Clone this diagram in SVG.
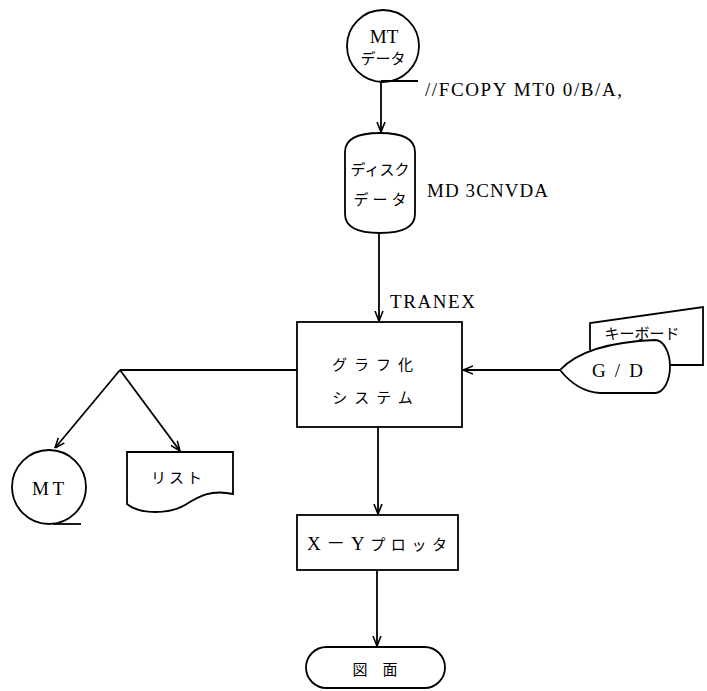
<svg xmlns="http://www.w3.org/2000/svg" width="707" height="691" viewBox="0 0 707 691">
<defs>
<style>
.s{fill:#fff;stroke:#000;stroke-width:1.8}
.l{fill:none;stroke:#000;stroke-width:1.8}
.t{font-family:"Liberation Serif","Noto Sans CJK JP",serif;font-size:19px;fill:#000}
.j{font-family:"Noto Sans CJK JP","Liberation Sans",sans-serif;font-size:15px;fill:#000}
</style>
<marker id="a" viewBox="0 0 10 10" refX="10" refY="5" markerWidth="10" markerHeight="10" markerUnits="userSpaceOnUse" orient="auto">
<path d="M0,1 L10,5 L0,9" fill="none" stroke="#000" stroke-width="1.6"/>
</marker>
</defs>
<rect width="707" height="691" fill="#fff"/>
<g id="connectors">
<line class="l" x1="381" y1="81" x2="381" y2="132" marker-end="url(#a)"/>
<line class="l" x1="379" y1="233" x2="379" y2="321" marker-end="url(#a)"/>
<line class="l" x1="560" y1="370" x2="463" y2="370" marker-end="url(#a)"/>
<line class="l" x1="297" y1="370" x2="120" y2="370"/>
<line class="l" x1="120" y1="370" x2="55" y2="448" marker-end="url(#a)"/>
<line class="l" x1="120" y1="370" x2="180" y2="451" marker-end="url(#a)"/>
<line class="l" x1="378" y1="427" x2="378" y2="514" marker-end="url(#a)"/>
<line class="l" x1="377" y1="570" x2="377" y2="646" marker-end="url(#a)"/>
<text class="t" x="425" y="96" textLength="197" lengthAdjust="spacing">//FCOPY  MT0 0/B/A,</text>
<text class="t" x="427" y="197" textLength="121" lengthAdjust="spacing">MD 3CNVDA</text>
<text class="t" x="390" y="308" textLength="85" lengthAdjust="spacing">TRANEX</text>
</g>
<g id="mt-data">
<circle class="s" cx="383" cy="46" r="36"/>
<line class="l" x1="381" y1="81" x2="418" y2="81"/>
<text class="t" x="384" y="43" text-anchor="middle" font-size="19">MT</text>
<text class="j" x="383" y="64" text-anchor="middle">データ</text>
</g>
<g id="disk-data">
<path class="s" d="M345,152 Q345,133 380,133 Q415,133 415,152 L415,214 Q415,233 380,233 Q345,233 345,214 Z"/>
<text class="j" x="380" y="175" text-anchor="middle" font-size="16">ディスク</text>
<text class="j" x="382" y="205" text-anchor="middle" font-size="16" letter-spacing="4">データ</text>
</g>
<g id="graph-system">
<rect class="s" x="297" y="322" width="165" height="105"/>
<text class="j" x="376" y="370" text-anchor="middle" font-size="18" letter-spacing="7">グラフ化</text>
<text class="j" x="376" y="403" text-anchor="middle" font-size="18" letter-spacing="7">システム</text>
</g>
<g id="keyboard-gd">
<path class="s" d="M590,350 L590,323 L703,307 L703,365 L668,365"/>
<text class="j" x="642" y="339" text-anchor="middle" font-size="15">キーボード</text>
<path class="s" d="M560,370 C575,354 605,342 655,340 A15,26.5 0 0 1 655,393 L600,393 C580,392 568,380 560,370 Z"/>
<text class="t" x="592" y="377" textLength="51" lengthAdjust="spacing" font-size="20">G/D</text>
</g>
<g id="mt-out">
<circle class="s" cx="49" cy="487" r="37"/>
<line class="l" x1="53" y1="524" x2="81" y2="524"/>
<text class="t" x="32" y="495" textLength="32" lengthAdjust="spacing" font-size="19">MT</text>
</g>
<g id="list">
<path class="s" d="M127,452 L233,452 L233,494 C210,489 198,497 185,505 C170,514 140,515 127,504 Z"/>
<text class="j" x="178" y="483" text-anchor="middle" font-size="16" letter-spacing="3">リスト</text>
</g>
<g id="xy-plotter">
<rect class="s" x="297" y="515" width="161" height="55"/>
<text x="307" y="550" textLength="140" lengthAdjust="spacing"><tspan class="t" font-size="19">X－Y</tspan><tspan class="j" font-size="17">プロッタ</tspan></text>
</g>
<g id="drawing">
<rect class="s" x="306" y="647" width="139" height="41" rx="20.5"/>
<text class="j" x="375" y="675" text-anchor="middle" font-size="19">図　面</text>
</g>
</svg>
